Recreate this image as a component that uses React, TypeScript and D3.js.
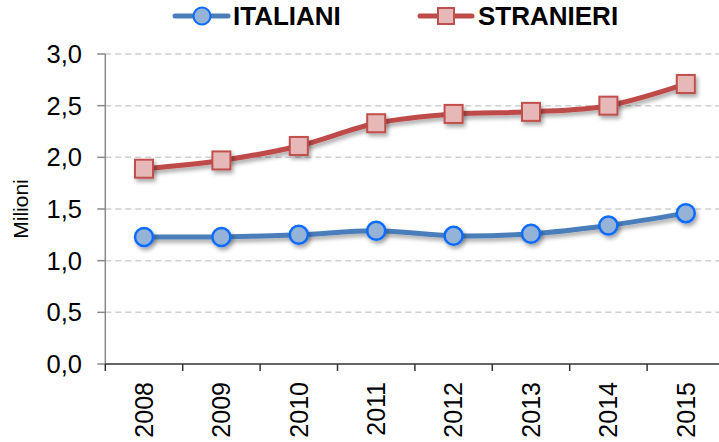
import React, { useEffect, useRef } from "react";
import * as d3 from "d3";

const years = ["2008", "2009", "2010", "2011", "2012", "2013", "2014", "2015"];
const italiani = [1.23, 1.23, 1.25, 1.29, 1.24, 1.26, 1.34, 1.46];
const stranieri = [1.89, 1.97, 2.11, 2.33, 2.42, 2.44, 2.5, 2.71];
const yTicks = [0, 0.5, 1, 1.5, 2, 2.5, 3];
const seriesNames = ["ITALIANI", "STRANIERI"];

const W = 719;
const H = 442;

export default function App() {
  const ref = useRef<SVGSVGElement>(null);

  useEffect(() => {
    const svg = d3.select(ref.current);
    svg.selectAll("*").remove();

    const left = 105.3;
    const band = 77.4;
    const x = d3
      .scaleBand()
      .domain(years)
      .range([left, left + band * years.length])
      .padding(0);
    const y = d3.scaleLinear().domain([0, 3]).range([364, 54]);
    const font = "Arial, 'Liberation Sans', sans-serif";

    const defs = svg.append("defs");
    const f = defs
      .append("filter")
      .attr("id", "shadow")
      .attr("x", "-50%")
      .attr("y", "-50%")
      .attr("width", "200%")
      .attr("height", "200%");
    f.append("feDropShadow")
      .attr("dx", 2)
      .attr("dy", 3)
      .attr("stdDeviation", 2)
      .attr("flood-color", "#000")
      .attr("flood-opacity", 0.35);

    // gridlines
    svg
      .append("g")
      .selectAll("line")
      .data(yTicks.filter((t) => t > 0))
      .join("line")
      .attr("x1", left)
      .attr("x2", W)
      .attr("y1", (d) => y(d))
      .attr("y2", (d) => y(d))
      .attr("stroke", "#d0d0d0")
      .attr("stroke-width", 1.5)
      .attr("stroke-dasharray", "6,4");

    // y axis
    const ya = svg.append("g");
    ya.append("line")
      .attr("x1", left)
      .attr("x2", left)
      .attr("y1", y(3))
      .attr("y2", y(0))
      .attr("stroke", "#898989")
      .attr("stroke-width", 1.5);
    ya.selectAll("line.t")
      .data(yTicks)
      .join("line")
      .attr("class", "t")
      .attr("x1", left - 8)
      .attr("x2", left)
      .attr("y1", (d) => y(d))
      .attr("y2", (d) => y(d))
      .attr("stroke", "#898989")
      .attr("stroke-width", 1.5);
    ya.selectAll("text")
      .data(yTicks)
      .join("text")
      .attr("x", 82)
      .attr("y", (d) => y(d))
      .attr("dy", "0.35em")
      .attr("text-anchor", "end")
      .attr("font-family", font)
      .attr("font-size", 25.5)
      .attr("fill", "#000")
      .text((d) => d3.format(".1f")(d).replace(".", ","));

    svg
      .append("text")
      .attr("transform", `translate(28,209) rotate(-90)`)
      .attr("text-anchor", "middle")
      .attr("font-family", font)
      .attr("font-size", 21)
      .text("Milioni");

    // x axis
    const xa = svg.append("g");
    xa.append("line")
      .attr("x1", left)
      .attr("x2", W)
      .attr("y1", y(0))
      .attr("y2", y(0))
      .attr("stroke", "#333")
      .attr("stroke-width", 1.5);
    xa.selectAll("line.t")
      .data(years)
      .join("line")
      .attr("class", "t")
      .attr("x1", (d) => x(d)!)
      .attr("x2", (d) => x(d)!)
      .attr("y1", y(0))
      .attr("y2", y(0) + 7)
      .attr("stroke", "#333")
      .attr("stroke-width", 1.5);
    xa.selectAll("text")
      .data(years)
      .join("text")
      .attr(
        "transform",
        (d) => `translate(${x(d)! + x.bandwidth() / 2},382) rotate(-90)`
      )
      .attr("text-anchor", "end")
      .attr("dy", "0.35em")
      .attr("font-family", font)
      .attr("font-size", 25)
      .text((d) => d);

    const cx = (i: number) => x(years[i])! + x.bandwidth() / 2;
    const line = d3
      .line<number>()
      .x((_, i) => cx(i))
      .y((d) => y(d))
      .curve(d3.curveCatmullRom.alpha(0));

    const series = [
      { vals: stranieri, color: "#be4b48" },
      { vals: italiani, color: "#4a7ebb" },
    ];
    series.forEach((s) => {
      svg
        .append("path")
        .attr("d", line(s.vals))
        .attr("fill", "none")
        .attr("stroke", s.color)
        .attr("stroke-width", 5)
        .attr("stroke-linecap", "round")
        .attr("filter", "url(#shadow)");
    });

    // markers
    svg
      .append("g")
      .selectAll("rect")
      .data(stranieri)
      .join("rect")
      .attr("x", (_, i) => cx(i) - 9)
      .attr("y", (d) => y(d) - 9)
      .attr("width", 18)
      .attr("height", 18)
      .attr("fill", "#e6b9b8")
      .attr("stroke", "#c0504d")
      .attr("stroke-width", 2)
      .attr("filter", "url(#shadow)");
    svg
      .append("g")
      .selectAll("circle")
      .data(italiani)
      .join("circle")
      .attr("cx", (_, i) => cx(i))
      .attr("cy", (d) => y(d))
      .attr("r", 9)
      .attr("fill", "#95b3d7")
      .attr("stroke", "#0a6cff")
      .attr("stroke-width", 2.5)
      .attr("filter", "url(#shadow)");

    // legend
    const lg = svg.append("g");
    lg.append("line")
      .attr("x1", 175)
      .attr("x2", 228)
      .attr("y1", 16)
      .attr("y2", 16)
      .attr("stroke", "#4a7ebb")
      .attr("stroke-width", 5)
      .attr("stroke-linecap", "round");
    lg.append("circle")
      .attr("cx", 202)
      .attr("cy", 16)
      .attr("r", 8.5)
      .attr("fill", "#95b3d7")
      .attr("stroke", "#0a6cff")
      .attr("stroke-width", 2);
    lg.append("text")
      .attr("x", 233)
      .attr("y", 16)
      .attr("dy", "0.36em")
      .attr("font-family", font)
      .attr("font-weight", "bold")
      .attr("font-size", 26)
      .text(seriesNames[0]);
    lg.append("line")
      .attr("x1", 420)
      .attr("x2", 472)
      .attr("y1", 16)
      .attr("y2", 16)
      .attr("stroke", "#be4b48")
      .attr("stroke-width", 5)
      .attr("stroke-linecap", "round");
    lg.append("rect")
      .attr("x", 438)
      .attr("y", 8)
      .attr("width", 16)
      .attr("height", 16)
      .attr("fill", "#e6b9b8")
      .attr("stroke", "#c0504d")
      .attr("stroke-width", 2);
    lg.append("text")
      .attr("x", 478)
      .attr("y", 16)
      .attr("dy", "0.36em")
      .attr("font-family", font)
      .attr("font-weight", "bold")
      .attr("font-size", 26)
      .text(seriesNames[1]);
  }, []);

  return (
    <svg
      ref={ref}
      width={W}
      height={H}
      style={{ position: "absolute", left: 0, top: 0, background: "#fff" }}
    />
  );
}
